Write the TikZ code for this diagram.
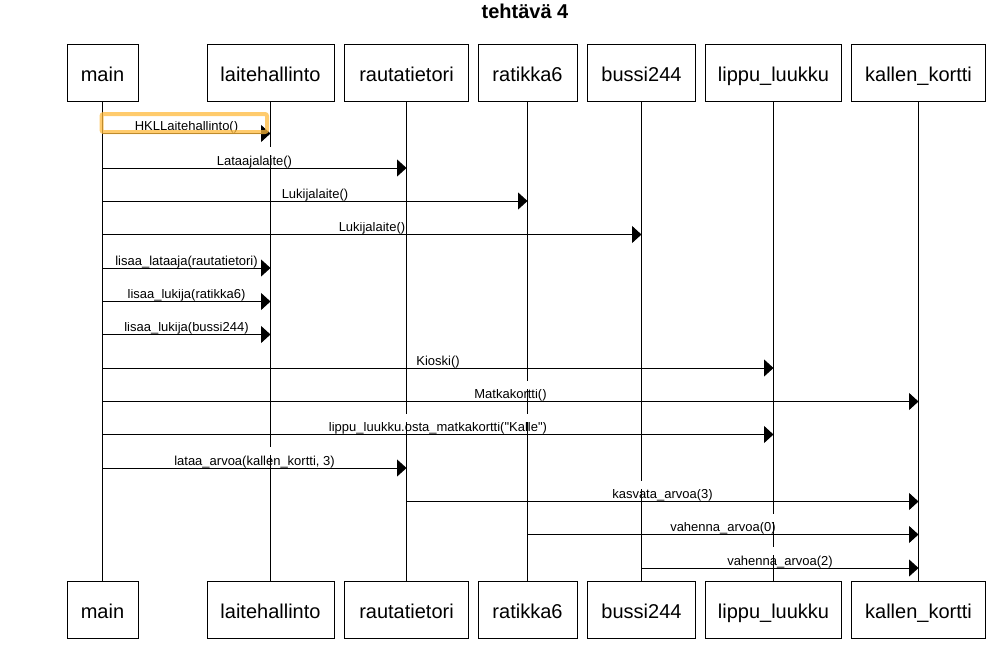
\documentclass[tikz,border=0pt]{standalone}
\usepackage{fontspec}
\setmainfont{Liberation Sans}[Ligatures=TeXOff]
\usetikzlibrary{arrows.meta,calc}
\definecolor{hlcol}{RGB}{255,186,60}
\tikzset{
  obj/.style={draw, line width=1pt, fill=white, minimum height=57pt, inner sep=0pt,
    font=\fontsize{20}{24}\selectfont, text height=17pt, text depth=0pt},
  life/.style={line width=1pt},
  msg/.style={line width=1pt, -{Triangle[length=9.5pt,width=17pt]}},
  lbl/.style={anchor=base, inner sep=0pt, font=\fontsize{13}{15}\selectfont, yshift=3pt},
  gap/.style={fill=white},
  hl/.style={draw=hlcol, draw opacity=0.75, line width=4pt, rounded corners=2pt}
}
\begin{document}
\begin{tikzpicture}[x=1pt,y=-1pt]
\useasboundingbox (0,0) rectangle (1003,645);
\node[anchor=base, inner sep=0pt, font=\bfseries\fontsize{20}{24}\selectfont] (title) at (525,18.5) {tehtävä 4};

% top objects
\node[obj, minimum width=71pt]  (mainT) at (102.5,72.5) {main};
\node[obj, minimum width=127pt] (laiT)  at (270.5,72.5) {laitehallinto};
\node[obj, minimum width=124pt] (rauT)  at (406.5,72.5) {rautatietori};
\node[obj, minimum width=99pt]  (ratT)  at (527.5,72.5) {ratikka6};
\node[obj, minimum width=108pt] (busT)  at (641.5,72.5) {bussi244};
\node[obj, minimum width=136pt] (lipT)  at (773.5,72.5) {lippu\_luukku};
\node[obj, minimum width=134pt] (kalT)  at (918.5,72.5) {kallen\_kortti};
% bottom objects
\node[obj, minimum width=71pt]  (mainB) at (102.5,609.5) {main};
\node[obj, minimum width=127pt] (laiB)  at (270.5,609.5) {laitehallinto};
\node[obj, minimum width=124pt] (rauB)  at (406.5,609.5) {rautatietori};
\node[obj, minimum width=99pt]  (ratB)  at (527.5,609.5) {ratikka6};
\node[obj, minimum width=108pt] (busB)  at (641.5,609.5) {bussi244};
\node[obj, minimum width=136pt] (lipB)  at (773.5,609.5) {lippu\_luukku};
\node[obj, minimum width=134pt] (kalB)  at (918.5,609.5) {kallen\_kortti};

% lifelines
\draw[life] (mainT.south) -- (mainB.north);
\draw[life] (laiT.south) -- (laiB.north);
\draw[life] (rauT.south) -- (rauB.north);
\draw[life] (ratT.south) -- (ratB.north);
\draw[life] (busT.south) -- (busB.north);
\draw[life] (lipT.south) -- (lipB.north);
\draw[life] (kalT.south) -- (kalB.north);

% message rows
\coordinate (r1) at (0,133.5);
\coordinate (r2) at (0,168);
\coordinate (r3) at (0,201);
\coordinate (r4) at (0,234.5);
\coordinate (r5) at (0,268);
\coordinate (r6) at (0,301.5);
\coordinate (r7) at (0,334.5);
\coordinate (r8) at (0,368);
\coordinate (r9) at (0,401.5);
\coordinate (r10) at (0,434.5);
\coordinate (r11) at (0,468);
\coordinate (r12) at (0,501.5);
\coordinate (r13) at (0,534.5);
\coordinate (r14) at (0,568);

% labels
\node[lbl] (m1)  at ($(mainT |- r1)!0.5!(laiT |- r1)$)   {HKLLaitehallinto()};
\node[lbl] (m2)  at ($(mainT |- r2)!0.5!(rauT |- r2)$)   {Lataajalaite()};
\node[lbl] (m3)  at ($(mainT |- r3)!0.5!(ratT |- r3)$)   {Lukijalaite()};
\node[lbl] (m4)  at ($(mainT |- r4)!0.5!(busT |- r4)$)   {Lukijalaite()};
\node[lbl] (m5)  at ($(mainT |- r5)!0.5!(laiT |- r5)$)   {lisaa\_lataaja(rautatietori)};
\node[lbl] (m6)  at ($(mainT |- r6)!0.5!(laiT |- r6)$)   {lisaa\_lukija(ratikka6)};
\node[lbl] (m7)  at ($(mainT |- r7)!0.5!(laiT |- r7)$)   {lisaa\_lukija(bussi244)};
\node[lbl] (m8)  at ($(mainT |- r8)!0.5!(lipT |- r8)$)   {Kioski()};
\node[lbl] (m9)  at ($(mainT |- r9)!0.5!(kalT |- r9)$)   {Matkakortti()};
\node[lbl] (m10) at ($(mainT |- r10)!0.5!(lipT |- r10)$) {lippu\_luukku.osta\_matkakortti("Kalle")};
\node[lbl] (m11) at ($(mainT |- r11)!0.5!(rauT |- r11)$) {lataa\_arvoa(kallen\_kortti, 3)};
\node[lbl] (m12) at ($(rauT |- r12)!0.5!(kalT |- r12)$)  {kasvata\_arvoa(3)};
\node[lbl] (m13) at ($(ratT |- r13)!0.5!(kalT |- r13)$)  {vahenna\_arvoa(0)};
\node[lbl] (m14) at ($(busT |- r14)!0.5!(kalT |- r14)$)  {vahenna\_arvoa(2)};

% label background bands that interrupt the lifelines
\foreach \i in {1,...,14}
  \fill[gap] ([xshift=-1pt,yshift=8pt]m\i.north west) rectangle ([xshift=1pt]m\i.north east);

% messages
\draw[msg] (mainT |- r1) -- (laiT |- r1);
\draw[msg] (mainT |- r2) -- (rauT |- r2);
\draw[msg] (mainT |- r3) -- (ratT |- r3);
\draw[msg] (mainT |- r4) -- (busT |- r4);
\draw[msg] (mainT |- r5) -- (laiT |- r5);
\draw[msg] (mainT |- r6) -- (laiT |- r6);
\draw[msg] (mainT |- r7) -- (laiT |- r7);
\draw[msg] (mainT |- r8) -- (lipT |- r8);
\draw[msg] (mainT |- r9) -- (kalT |- r9);
\draw[msg] (mainT |- r10) -- (lipT |- r10);
\draw[msg] (mainT |- r11) -- (rauT |- r11);
\draw[msg] (rauT |- r12) -- (kalT |- r12);
\draw[msg] (ratT |- r13) -- (kalT |- r13);
\draw[msg] (busT |- r14) -- (kalT |- r14);

% highlight
\draw[hl] (101.5,114) rectangle (267,132);
\end{tikzpicture}
\end{document}
